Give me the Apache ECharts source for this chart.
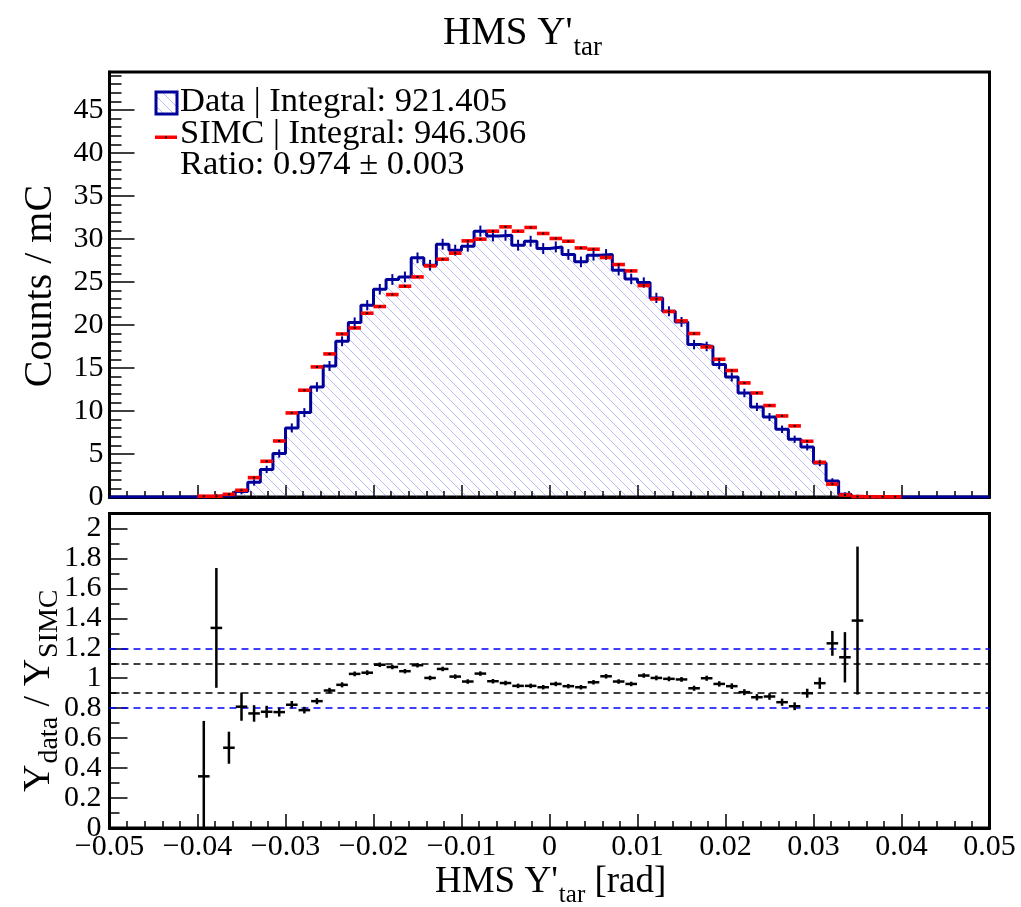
<!DOCTYPE html>
<html><head><meta charset="utf-8">
<script src="https://cdn.jsdelivr.net/npm/echarts@6/dist/echarts.min.js"></script>
<style>html,body{margin:0;padding:0;background:#fff}#c{width:1021px;height:907px}</style>
</head><body><div id="c"></div>
<script>
// ---- data (70 bins over the x range) ----
const X_MIN = -0.05, X_MAX = 0.05, N_BINS = 70;
const dataCounts = [0,0,0,0,0,0,0, 0.03,0.12,0.16,
  0.63,1.7,3.2,5.05,8.03,9.81,12.79,15.23,18.1,20.28,
  22.29,24.15,25.28,25.58,27.8,26.94,29.38,28.69,29.15,30.9,
  30.35,30.43,29.27,29.73,28.88,29.07,28.19,27.33,28.1,28.19,
  26.36,25.35,24.93,23.14,21.59,20.35,17.72,17.5,15.39,13.95,
  12.09,10.47,9.3,7.87,6.71,5.81,3.95,1.86,0.31,0.07,
  0,0,0,0,0,0,0,0,0,0];
const dataErr = [null,null,null,null,null,null,null, 0.03,0.06,0.08,
  0.15,0.2,0.25,0.3,0.35,0.35,0.38,0.4,0.4,0.42,
  0.42,0.44,0.45,0.45,0.45,0.45,0.46,0.46,0.46,0.47,
  0.47,0.47,0.46,0.46,0.46,0.46,0.45,0.45,0.45,0.45,
  0.44,0.44,0.43,0.42,0.4,0.4,0.38,0.38,0.36,0.35,
  0.32,0.3,0.28,0.26,0.25,0.22,0.2,0.14,0.06,0.03,
  null,null,null,null,null,null,null,null,null,null];
const simcCounts = [null,null,null,null,null,null,null, 0.09,0.09,0.31,
  0.78,2.25,4.15,6.51,9.77,12.41,15.12,16.63,18.95,19.65,
  21.36,22.14,23.53,24.5,25.58,26.86,27.64,28.34,29.77,29.97,
  30.9,31.4,30.9,31.33,30.63,30.05,29.73,28.95,28.8,27.84,
  27.02,26.28,24.58,23.02,21.56,20.47,19.0,17.44,16.01,14.7,
  13.26,12.09,10.63,9.42,8.26,6.48,4.03,1.5,0.23,0.05,
  0.03,0.02,0.02,null,null,null,null,null,null,null];
const ratio = [null,null,null,null,null,null,null, 0.345,1.336,0.536,
  0.81,0.765,0.776,0.774,0.823,0.787,0.847,0.918,0.956,1.029,
  1.037,1.09,1.075,1.047,1.087,1.002,1.062,1.011,0.978,1.031,
  0.98,0.968,0.949,0.949,0.94,0.962,0.947,0.94,0.973,1.013,
  0.978,0.962,1.018,1.002,0.996,0.992,0.933,1.0,0.962,0.947,
  0.907,0.873,0.878,0.84,0.813,0.9,0.967,1.233,1.14,1.385,
  null,null,null,null,null,null,null,null,null,null];
const ratioErr = [null,null,null,null,null,null,null, 0.37,0.40,0.107,
  0.094,0.055,0.04,0.03,0.025,0.022,0.02,0.018,0.017,0.016,
  0.016,0.015,0.015,0.015,0.015,0.015,0.015,0.015,0.015,0.015,
  0.015,0.015,0.015,0.015,0.015,0.015,0.015,0.015,0.015,0.015,
  0.015,0.015,0.015,0.016,0.016,0.016,0.017,0.017,0.018,0.019,
  0.02,0.021,0.022,0.024,0.026,0.03,0.038,0.083,0.168,0.494,
  null,null,null,null,null,null,null,null,null,null];
const refLinesBlue = [1.2, 0.8];
const refLinesBlack = [1.1, 0.9];
const legendTexts = ['Data | Integral: 921.405', 'SIMC | Integral: 946.306', 'Ratio: 0.974 \u00b1 0.003'];

// ---- build ----
const FONT = '"Liberation Serif","Times New Roman",serif';
const BLUE = '#00009a';
const W = (X_MAX - X_MIN) / N_BINS;
const edge = k => X_MIN + k * W;
const center = k => X_MIN + (k + 0.5) * W;

const stepData = dataCounts.map((v, k) => [edge(k), v]);
stepData.push([X_MAX, dataCounts[N_BINS - 1]]);
const errData = [], simcData = [], ratioData = [];
for (let k = 0; k < N_BINS; k++) {
  if (dataErr[k] != null && dataCounts[k] > 0) errData.push([center(k), dataCounts[k], dataErr[k]]);
  if (simcCounts[k] != null) simcData.push([center(k), simcCounts[k]]);
  if (ratio[k] != null) ratioData.push([center(k), ratio[k], ratioErr[k]]);
}

function hatchCanvas() {
  const s = 10, c = document.createElement('canvas');
  c.width = s; c.height = s;
  const g = c.getContext('2d');
  g.strokeStyle = 'rgba(100,100,240,0.45)'; g.lineWidth = 1;
  g.beginPath();
  g.moveTo(0, 0); g.lineTo(s, s);
  g.moveTo(-1, s - 1); g.lineTo(1, s + 1);
  g.moveTo(s - 1, -1); g.lineTo(s + 1, 1);
  g.stroke();
  return c;
}
const HATCH = hatchCanvas();

const mctx = document.createElement('canvas').getContext('2d');
function tw(t, size) { mctx.font = size + 'px ' + FONT; return mctx.measureText(t).width; }
function txt(t, x, y, size, extra) {
  return Object.assign({ type: 'text', x: x, y: y, style: { text: t, font: size + 'px ' + FONT, fill: '#000', align: 'left', verticalAlign: 'middle' } }, extra || {});
}

// titles
const graphics = [];
(function () {
  // main title
  let big = 39, small = 27, x0 = 443;
  graphics.push(txt("HMS Y'", x0, 34, big));
  graphics.push(txt('tar', x0 + tw("HMS Y'", big) + 1, 48, small));
  // x title
  big = 37; small = 25; x0 = 435;
  graphics.push(txt("HMS Y'", x0, 882, big));
  const xs = x0 + tw("HMS Y'", big) + 1;
  graphics.push(txt('tar', xs, 895, small));
  graphics.push(txt(' [rad]', xs + tw('tar', small), 882, big));
  // top y title
  graphics.push({ type: 'text', x: 40, y: 286, rotation: Math.PI / 2,
    style: { text: 'Counts / mC', font: '40px ' + FONT, fill: '#000', align: 'center', verticalAlign: 'middle' } });
  // bottom y title (composite, rotated)
  const parts = [['Y', 38, 0], ['data', 28, 11], [' / Y', 38, 0], ['SIMC', 28, 11]];
  let lx = 0; const ch = [];
  parts.forEach(p => { ch.push(txt(p[0], lx, p[2], p[1])); lx += tw(p[0], p[1]) + 1; });
  graphics.push({ type: 'group', x: 39, y: 792, rotation: Math.PI / 2, children: ch });
  // legend
  graphics.push({ type: 'rect', shape: { x: 156, y: 92, width: 21, height: 22 },
    style: { fill: { image: HATCH, repeat: 'repeat' }, stroke: BLUE, lineWidth: 3 } });
  graphics.push({ type: 'rect', shape: { x: 155, y: 135.5, width: 22, height: 3.5 }, style: { fill: '#ff0000' } });
  graphics.push({ type: 'rect', shape: { x: 165, y: 136.2, width: 2, height: 2 }, style: { fill: '#000' } });
  graphics.push(txt(legendTexts[0], 180, 102, 34.5));
  graphics.push(txt(legendTexts[1], 180, 134, 34.5));
  graphics.push(txt(legendTexts[2], 180, 165, 34.5));
})();

const xFmt = v => { const r = Math.round(v * 1000) / 1000; if (Math.abs(r) < 1e-9) return '0'; return String(r).replace('-', '\u2212'); };
const lbl = { color: '#000', fontFamily: FONT, fontSize: 30 };

const chart = echarts.init(document.getElementById('c'), null, { renderer: 'canvas' });
chart.setOption({
  animation: false,
  backgroundColor: '#fff',
  grid: [
    { left: 109.5, top: 72, width: 880, height: 425, show: true, borderColor: '#000', borderWidth: 3, backgroundColor: 'transparent', containLabel: false, outerBoundsMode: 'none' },
    { left: 109.5, top: 513.5, width: 880, height: 314.5, show: true, borderColor: '#000', borderWidth: 3, backgroundColor: 'transparent', containLabel: false, outerBoundsMode: 'none' }
  ],
  xAxis: [
    { gridIndex: 0, type: 'value', min: X_MIN, max: X_MAX, interval: 0.01,
      axisLine: { show: true, onZero: false, lineStyle: { color: '#000', width: 3 } },
      axisTick: { show: true, inside: true, length: 12, lineStyle: { color: '#000', width: 1.5 } },
      minorTick: { show: true, splitNumber: 5, length: 6, lineStyle: { color: '#000', width: 1.5 } },
      axisLabel: { show: false }, splitLine: { show: false } },
    { gridIndex: 1, type: 'value', min: X_MIN, max: X_MAX, interval: 0.01,
      axisLine: { show: true, onZero: false, lineStyle: { color: '#000', width: 3 } },
      axisTick: { show: true, inside: true, length: 14, lineStyle: { color: '#000', width: 1.5 } },
      minorTick: { show: true, splitNumber: 5, length: 7, lineStyle: { color: '#000', width: 1.5 } },
      axisLabel: Object.assign({ show: true, margin: 4, formatter: xFmt, showMinLabel: true, showMaxLabel: true }, lbl),
      splitLine: { show: false } }
  ],
  yAxis: [
    { gridIndex: 0, type: 'value', min: 0, max: 49.4, interval: 5,
      axisLine: { show: true, onZero: false, lineStyle: { color: '#000', width: 3 } },
      axisTick: { show: true, inside: true, length: 25, lineStyle: { color: '#000', width: 1.5 } },
      minorTick: { show: true, splitNumber: 5, length: 12, lineStyle: { color: '#000', width: 1.5 } },
      axisLabel: Object.assign({ show: true, margin: 6, formatter: v => String(Math.round(v)), showMinLabel: true, showMaxLabel: false }, lbl),
      splitLine: { show: false } },
    { gridIndex: 1, type: 'value', min: 0, max: 2.1, interval: 0.2,
      axisLine: { show: true, onZero: false, lineStyle: { color: '#000', width: 3 } },
      axisTick: { show: true, inside: true, length: 18, lineStyle: { color: '#000', width: 1.5 } },
      minorTick: { show: true, splitNumber: 2, length: 10, lineStyle: { color: '#000', width: 1.5 } },
      axisLabel: Object.assign({ show: true, margin: 8, formatter: v => String(Math.round(v * 10) / 10), showMinLabel: true, showMaxLabel: false }, lbl),
      splitLine: { show: false } }
  ],
  series: [
    { type: 'line', xAxisIndex: 0, yAxisIndex: 0, step: 'end', data: stepData, symbol: 'none', z: 2,
      lineStyle: { color: BLUE, width: 3 }, areaStyle: { color: { image: HATCH, repeat: 'repeat' }, opacity: 1 } },
    { type: 'custom', xAxisIndex: 0, yAxisIndex: 0, data: errData, z: 3,
      encode: { x: 0, y: 1 },
      renderItem: (p, api) => {
        const c = api.value(0), v = api.value(1), e = api.value(2);
        const a = api.coord([c, v - e]), b = api.coord([c, v + e]);
        return { type: 'line', shape: { x1: a[0], y1: a[1] + 1.5, x2: b[0], y2: b[1] - 1.5 }, style: { stroke: BLUE, lineWidth: 2 } };
      } },
    { type: 'custom', xAxisIndex: 0, yAxisIndex: 0, data: simcData, z: 4,
      encode: { x: 0, y: 1 },
      renderItem: (p, api) => {
        const c = api.value(0), v = api.value(1);
        const a = api.coord([c - W / 2, v]), b = api.coord([c + W / 2, v]);
        return { type: 'group', children: [
          { type: 'rect', shape: { x: a[0], y: a[1] - 1.8, width: b[0] - a[0], height: 3.6 }, style: { fill: '#ff0000' } },
          { type: 'rect', shape: { x: (a[0] + b[0]) / 2 - 1, y: a[1] - 1, width: 2, height: 2 }, style: { fill: '#000' } }
        ] };
      } },
    { type: 'line', xAxisIndex: 1, yAxisIndex: 1, data: [], symbol: 'none', silent: true,
      markLine: { silent: true, symbol: 'none', label: { show: false },
        data: refLinesBlue.map(v => ({ yAxis: v, lineStyle: { color: '#0000ff', width: 1.5, type: [7, 5] } }))
          .concat(refLinesBlack.map(v => ({ yAxis: v, lineStyle: { color: '#000', width: 1.5, type: [7, 5] } }))) } },
    { type: 'custom', xAxisIndex: 1, yAxisIndex: 1, data: ratioData, z: 5,
      encode: { x: 0, y: 1 },
      renderItem: (p, api) => {
        const c = api.value(0), v = api.value(1), e = api.value(2);
        const cs = p.coordSys;
        const ym = api.coord([c, v]), l = api.coord([c - W / 2, v])[0], r = api.coord([c + W / 2, v])[0];
        let y1 = api.coord([c, v - e])[1], y2 = api.coord([c, v + e])[1];
        y1 = Math.min(y1, cs.y + cs.height); y2 = Math.max(y2, cs.y);
        return { type: 'group', children: [
          { type: 'line', shape: { x1: l + 0.5, y1: ym[1], x2: r - 0.5, y2: ym[1] }, style: { stroke: '#000', lineWidth: 2.5 } },
          { type: 'line', shape: { x1: ym[0], y1: y1, x2: ym[0], y2: y2 }, style: { stroke: '#000', lineWidth: 2.5 } }
        ] };
      } }
  ],
  graphic: { elements: graphics }
});
</script>
</body></html>
